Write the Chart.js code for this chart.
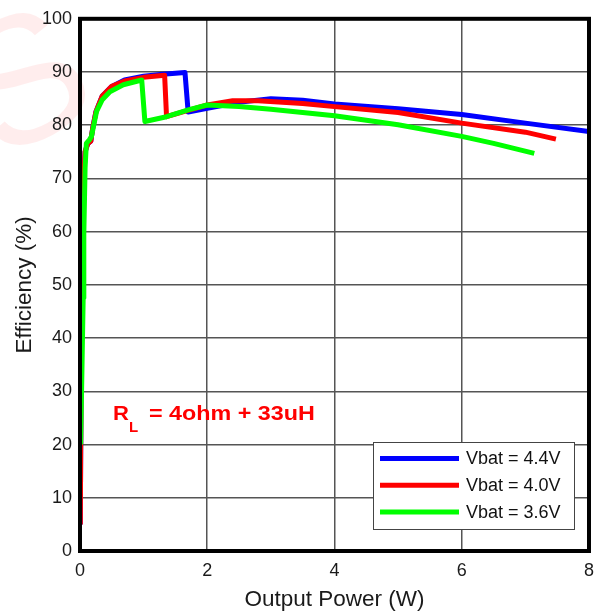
<!DOCTYPE html>
<html>
<head>
<meta charset="utf-8">
<script src="https://cdn.jsdelivr.net/npm/chart.js@4.4.1/dist/chart.umd.min.js"></script>
<style>
  html, body { margin: 0; padding: 0; background: #fff; }
  #wrap { width: 603px; height: 615px; }
</style>
</head>
<body>
<div id="wrap"><canvas id="myChart" width="603" height="615"></canvas></div>
<script>
// values (W, %)
const blueX = [0.005, 0.02, 0.04, 0.08, 0.12, 0.17, 0.2, 0.25, 0.35, 0.5, 0.7, 1.0, 1.3, 1.65, 1.7, 2.0, 2.5, 3.0, 3.5, 4.0, 5.0, 6.0, 7.0, 8.0];
const blueY = [5, 40, 65, 75, 76.5, 77, 79.5, 82.5, 85.5, 87.3, 88.5, 89.2, 89.6, 89.9, 82.5, 83.2, 84.3, 85.0, 84.7, 84.0, 83.1, 82.0, 80.4, 78.8];
const redX = [0.005, 0.02, 0.04, 0.08, 0.12, 0.17, 0.2, 0.25, 0.35, 0.5, 0.7, 1.0, 1.33, 1.36, 1.7, 2.0, 2.4, 2.8, 3.5, 4.0, 5.0, 6.0, 7.0, 7.48];
const redY = [5, 40, 65, 75, 76.5, 77, 79.5, 82.5, 85.5, 87.3, 88.3, 89.0, 89.4, 81.6, 82.8, 83.8, 84.6, 84.6, 84.1, 83.5, 82.4, 80.4, 78.7, 77.4];
const greenX = [0.01, 0.05, 0.06, 0.08, 0.1, 0.15, 0.18, 0.26, 0.35, 0.47, 0.68, 0.97, 1.02, 1.36, 1.7, 2.0, 2.5, 3.0, 3.5, 4.0, 5.0, 6.0, 6.5, 7.14];
const greenY = [20, 47.6, 59.5, 72, 76.6, 77.3, 77.9, 82.6, 84.8, 86.3, 87.6, 88.5, 80.7, 81.6, 82.9, 83.8, 83.5, 83.0, 82.4, 81.8, 80.1, 77.9, 76.6, 74.7];
const seriesLabels = ['Vbat = 4.4V', 'Vbat = 4.0V', 'Vbat = 3.6V'];
const xTicks = [0, 2, 4, 6, 8];
const yTicks = [0, 10, 20, 30, 40, 50, 60, 70, 80, 90, 100];

function pts(xs, ys) {
  return xs.map((x, i) => ({x: x, y: ys[i]}));
}

const FONT = '"Liberation Sans", Arial, sans-serif';

// frame, legend box, note and the faint watermark
const extras = {
  id: 'extras',
  beforeDraw(chart) {
    const c = chart.ctx;
    c.save();
    c.translate(28, 90);
    c.rotate(-0.5);
    c.font = '180px ' + FONT;
    c.fillStyle = 'rgba(255,0,0,0.07)';
    c.textAlign = 'center';
    c.textBaseline = 'middle';
    c.fillText('S', 0, 0);
    c.restore();
  },
  afterDatasetsDraw(chart) {
    const c = chart.ctx, a = chart.chartArea;
    c.save();
    c.strokeStyle = '#000';
    c.lineWidth = 4;
    c.strokeRect(a.left, a.top, a.right - a.left, a.bottom - a.top);
    c.restore();
  },
  afterDraw(chart) {
    const c = chart.ctx;
    c.save();
    // legend
    c.fillStyle = '#fff';
    c.fillRect(373, 442, 201, 87);
    c.strokeStyle = '#444';
    c.lineWidth = 1;
    c.strokeRect(373.5, 442.5, 201, 87);
    const order = [2, 1, 0]; // datasets are listed green, red, blue
    order.forEach((di, k) => {
      const ds = chart.data.datasets[di];
      const y = 458.5 + k * 26.7;
      c.strokeStyle = ds.borderColor;
      c.lineWidth = 5;
      c.beginPath();
      c.moveTo(380, y);
      c.lineTo(459, y);
      c.stroke();
      c.fillStyle = '#111';
      c.font = '18px ' + FONT;
      c.textBaseline = 'middle';
      c.fillText(ds.label, 466, y + 1);
    });
    // note
    c.fillStyle = '#ff0000';
    c.textBaseline = 'alphabetic';
    c.font = 'bold 21px ' + FONT;
    c.save();
    c.translate(113, 420);
    c.scale(1.05, 1);
    c.fillText('R', 0, 0);
    c.restore();
    c.font = 'bold 15px ' + FONT;
    c.fillText('L', 129, 432);
    c.font = 'bold 21px ' + FONT;
    c.save();
    c.translate(149, 420);
    c.scale(1.11, 1);
    c.fillText('= 4ohm + 33uH', 0, 0);
    c.restore();
    c.restore();
  }
};

const ctx = document.getElementById('myChart').getContext('2d');
const chart = new Chart(ctx, {
  type: 'line',
  data: {
    datasets: [
      {label: seriesLabels[2], data: pts(greenX, greenY), borderColor: '#00ff00', order: 1},
      {label: seriesLabels[1], data: pts(redX, redY), borderColor: '#ff0000', order: 2},
      {label: seriesLabels[0], data: pts(blueX, blueY), borderColor: '#0000ff', order: 3}
    ]
  },
  options: {
    responsive: false,
    animation: false,
    datasets: {line: {borderWidth: 5, pointRadius: 0, tension: 0, fill: false, borderJoinStyle: 'round'}},
    layout: {padding: {top: 17, right: 13, left: 0, bottom: 0}},
    plugins: {legend: {display: false}, tooltip: {enabled: false}},
    scales: {
      x: {
        type: 'linear', min: 0, max: 8,
        afterFit: s => { s.height = 64; },
        afterBuildTicks: s => { s.ticks = xTicks.map(v => ({value: v})); },
        grid: {color: '#555', lineWidth: 1.5, drawTicks: false},
        border: {display: false},
        ticks: {font: {family: FONT, size: 18}, color: '#1a1a1a', padding: 9, maxRotation: 0},
        title: {display: true, text: 'Output Power (W)', font: {family: FONT, size: 22.5}, color: '#1a1a1a', padding: {top: 0, bottom: 2}}
      },
      y: {
        min: 0, max: 100,
        afterFit: s => { s.width = 80; },
        afterBuildTicks: s => { s.ticks = yTicks.map(v => ({value: v})); },
        grid: {color: '#555', lineWidth: 1.5, drawTicks: false},
        border: {display: false},
        ticks: {font: {family: FONT, size: 18}, color: '#1a1a1a', padding: 8},
        title: {display: true, text: 'Efficiency (%)', font: {family: FONT, size: 22.5}, color: '#1a1a1a', padding: {top: 11, bottom: 0}}
      }
    }
  },
  plugins: [extras]
});
</script>
</body>
</html>
